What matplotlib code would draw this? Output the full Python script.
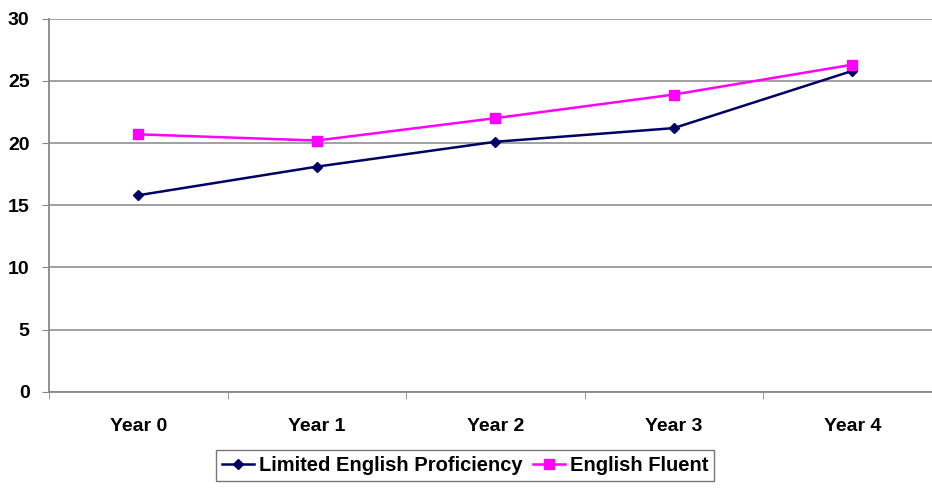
import matplotlib
matplotlib.use("Agg")
import matplotlib.pyplot as plt
import numpy as np

years = ["Year 0", "Year 1", "Year 2", "Year 3", "Year 4"]
limited = [15.8, 18.1, 20.1, 21.2, 25.8]
fluent = [20.7, 20.2, 22.0, 23.9, 26.3]

plt.rcParams['font.family'] = ['Liberation Sans', 'DejaVu Sans']

fig = plt.figure(figsize=(9.32, 4.9), dpi=100)
# plot area runs past the right edge of the figure
ax = fig.add_axes([49 / 932, 1 - 391.7 / 490, 892.5 / 932, 373 / 490])

x = np.arange(len(years))
ax.plot(x, limited, color="#000066", lw=1.8, marker="D", ms=5.5, label="Limited English Proficiency")
ax.plot(x, fluent, color="#FF00FF", lw=1.8, marker="s", ms=7.5, label="English Fluent")

ax.set_xlim(-0.5, len(years) - 0.5)
ax.set_ylim(0, 30)
ax.set_yticks(range(0, 31, 5))
ax.set_xticks(x)
ax.set_xticklabels(years, fontsize=14, fontweight="bold")
ax.set_xticks(np.arange(-0.5, len(years), 1), minor=True)
ax.tick_params(axis="x", which="major", length=0, pad=19)
ax.tick_params(axis="x", which="minor", length=5, color="#888888", direction="out")
ax.tick_params(axis="y", length=5, color="#888888", labelsize=14, pad=9)
for lab in ax.get_yticklabels():
    lab.set_fontweight("bold")

ax.grid(axis="y", color="#999999", lw=1.3)
ax.set_axisbelow(True)
for side in ["top", "right"]:
    ax.spines[side].set_visible(False)
for side in ["left", "bottom"]:
    ax.spines[side].set_color("#888888")
    ax.spines[side].set_linewidth(1.3)

leg = fig.legend(loc="center", bbox_to_anchor=(465 / 932, 1 - 465.5 / 490), ncol=2,
                 frameon=True, fancybox=False, prop={"weight": "bold", "size": 14.5},
                 handlelength=1.6, handletextpad=0.25, columnspacing=0.5,
                 borderpad=0.28, borderaxespad=0)
leg.get_frame().set_edgecolor("#555555")
leg.get_frame().set_linewidth(1.0)

fig.savefig("out.png", dpi=100)
